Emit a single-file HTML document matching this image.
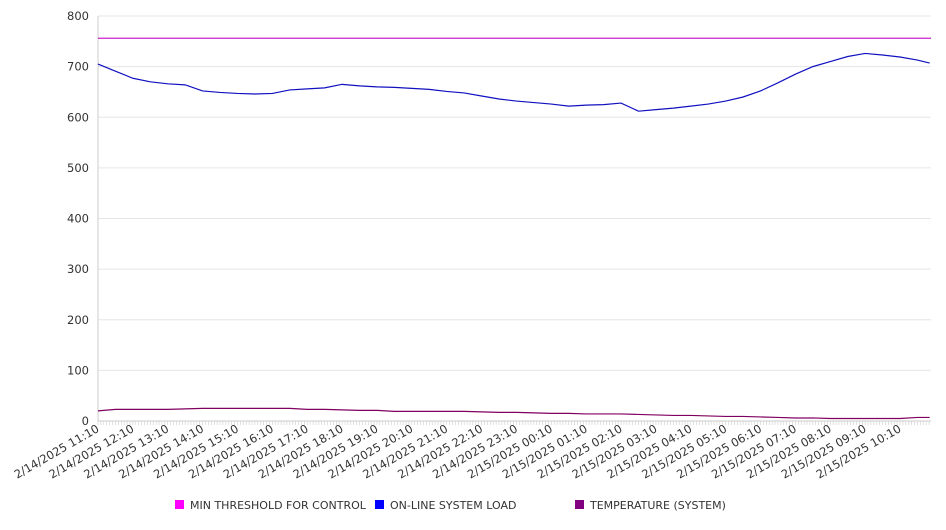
<!DOCTYPE html>
<html><head><meta charset="utf-8"><style>
body{margin:0;background:#fff;font-family:"DejaVu Sans","Liberation Sans",sans-serif;}
svg text{font-family:"DejaVu Sans","Liberation Sans",sans-serif;fill:#333;}
</style></head><body>
<svg id="chart" width="946" height="526" xmlns="http://www.w3.org/2000/svg"></svg>
<script>
const hours=[0,0.5,1,1.5,2,2.5,3,3.5,4,4.5,5,5.5,6,6.5,7,7.5,8,8.5,9,9.5,10,10.5,11,11.5,12,12.5,13,13.5,14,14.5,15,15.5,16,16.5,17,17.5,18,18.5,19,19.5,20,20.5,21,21.5,22,22.5,23,23.5,23.85];
const loadValues=[705,691,677,670,666,664,652,649,647,646,647,654,656,658,665,662,660,659,657,655,651,648,642,636,632,629,626,622,624,625,628,612,615,618,622,626,632,640,652,668,685,700,710,720,726,723,719,713,707];
const tempValues=[20,23,23,23,23,24,25,25,25,25,25,25,23,23,22,21,21,19,19,19,19,19,18,17,17,16,15,15,14,14,14,13,12,11,11,10,9,9,8,7,6,6,5,5,5,5,5,7,7];
const thresholdValue=756;
const yTicks=[0,100,200,300,400,500,600,700,800];
const xLabels=["2/14/2025 11:10","2/14/2025 12:10","2/14/2025 13:10","2/14/2025 14:10","2/14/2025 15:10","2/14/2025 16:10","2/14/2025 17:10","2/14/2025 18:10","2/14/2025 19:10","2/14/2025 20:10","2/14/2025 21:10","2/14/2025 22:10","2/14/2025 23:10","2/15/2025 00:10","2/15/2025 01:10","2/15/2025 02:10","2/15/2025 03:10","2/15/2025 04:10","2/15/2025 05:10","2/15/2025 06:10","2/15/2025 07:10","2/15/2025 08:10","2/15/2025 09:10","2/15/2025 10:10"];
const legendLabels=["MIN THRESHOLD FOR CONTROL","ON-LINE SYSTEM LOAD","TEMPERATURE (SYSTEM)"];
const legendColors=["#ff00ff","#0000ff","#800080"];

const svg=document.getElementById('chart');
const NS="http://www.w3.org/2000/svg";
const L=98,R=931,T=16,B=421;
const x=h=>L+h*34.87;
const y=v=>B-v*(B-T)/800;
function mk(tag,attrs,parent){const e=document.createElementNS(NS,tag);for(const k in attrs)e.setAttribute(k,attrs[k]);(parent||svg).appendChild(e);return e;}

yTicks.forEach(v=>{
  const g=mk('line',{x1:L,x2:R,y1:y(v),y2:y(v),stroke:v===0?'#ccc':'#e6e6e6','stroke-width':1});
  
  
  const t=mk('text',{x:89,y:y(v)+4,'text-anchor':'end','font-size':11.5});
  t.textContent=v;
  
  
});
const ax=mk('line',{x1:L,x2:L,y1:T,y2:B,stroke:'#ccc'});


for(let i=0;i<=286;i++){
  const tk=mk('line',{x1:x(i/12),x2:x(i/12),y1:B,y2:B+4,stroke:'#ccc','stroke-width':0.6});
  
  
}
xLabels.forEach((s,i)=>{
  const t=mk('text',{transform:`translate(${x(i)+2},${B+10}) rotate(-30)`,'text-anchor':'end','font-size':11.5});
  t.textContent=s;
  
  
});
const th=mk('line',{x1:L,x2:R,y1:y(thresholdValue),y2:y(thresholdValue),stroke:'#cc22cc','stroke-width':1.2});


const lp=mk('polyline',{points:hours.map((h,i)=>x(h)+','+y(loadValues[i])).join(' '),fill:'none',stroke:'#1010c0','stroke-width':1.2});


const tp=mk('polyline',{points:hours.map((h,i)=>x(h)+','+y(tempValues[i])).join(' '),fill:'none',stroke:'#800060','stroke-width':1.2});



const lx=[175,375,575];
legendLabels.forEach((s,i)=>{
  const r=mk('rect',{x:lx[i],y:500,width:9,height:9,fill:legendColors[i]});
  
  
  const t=mk('text',{x:lx[i]+15,y:509,'font-size':11});
  t.textContent=s;
  
  
});
</script>
</body></html>
